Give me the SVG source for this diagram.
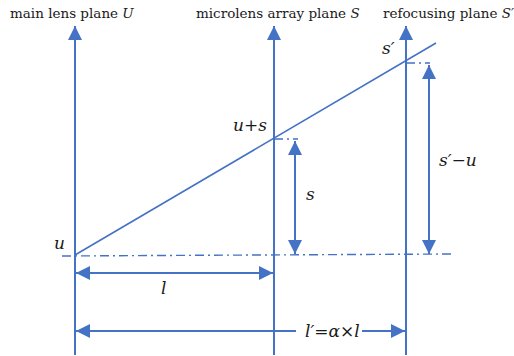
<svg xmlns="http://www.w3.org/2000/svg" width="514" height="356" viewBox="0 0 514 356">
<defs>
<marker id="ah" viewBox="0 0 10 10" refX="10" refY="5" markerWidth="7" markerHeight="7" markerUnits="strokeWidth" orient="auto-start-reverse">
<path d="M0,0 L10,5 L0,10 Z" fill="#4472C4"/>
</marker>
<style>
.ln{stroke:#4472C4;stroke-width:2;fill:none}
.thin{stroke:#4472C4;stroke-width:1.6;fill:none}
.dd{stroke:#4472C4;stroke-width:1.4;fill:none;stroke-dasharray:9,4,2,4}
.t{font-family:'DejaVu Serif',serif;font-size:13.5px;fill:#1a1a1a}
.m{font-family:'DejaVu Serif',serif;font-size:17px;font-style:italic;fill:#1a1a1a}
</style>
</defs>
<rect width="514" height="356" fill="#ffffff"/>
<g id="plane-U">
<line class="ln" x1="75" y1="355" x2="75" y2="26" marker-end="url(#ah)"/>
<text class="t" x="10" y="18">main lens plane <tspan font-style="italic">U</tspan></text>
</g>
<g id="plane-S">
<line class="ln" x1="274" y1="355" x2="274" y2="26" marker-end="url(#ah)"/>
<text class="t" x="196" y="18">microlens array plane <tspan font-style="italic">S</tspan></text>
</g>
<g id="plane-S-prime">
<line class="ln" x1="406" y1="355" x2="406" y2="26" marker-end="url(#ah)"/>
<text class="t" x="383" y="18">refocusing plane <tspan font-style="italic">S′</tspan></text>
</g>
<g id="connectors">
<line class="thin" x1="75" y1="255" x2="436" y2="43"/>
<line class="dd" x1="62" y1="256" x2="452" y2="254"/>
<line class="dd" x1="274" y1="139" x2="298" y2="139"/>
<line class="dd" x1="406" y1="63" x2="430" y2="63"/>
<line class="ln" x1="295" y1="141" x2="295" y2="254" marker-start="url(#ah)" marker-end="url(#ah)"/>
<line class="ln" x1="429" y1="65" x2="429" y2="254" marker-start="url(#ah)" marker-end="url(#ah)"/>
<line class="ln" x1="76" y1="273" x2="273" y2="273" marker-start="url(#ah)" marker-end="url(#ah)"/>
<line class="ln" x1="76" y1="331" x2="296" y2="331" marker-start="url(#ah)"/>
<line class="ln" x1="362" y1="331" x2="405" y2="331" marker-end="url(#ah)"/>
</g>
<g id="labels">
<text class="m" x="382" y="54">s′</text>
<text class="m" x="233" y="131">u+s</text>
<text class="m" x="306" y="200">s</text>
<text class="m" x="439" y="166">s′−u</text>
<text class="m" x="54" y="249">u</text>
<text class="m" x="161" y="294">l</text>
<text class="m" x="305" y="337">l′=α×l</text>
</g>
</svg>
